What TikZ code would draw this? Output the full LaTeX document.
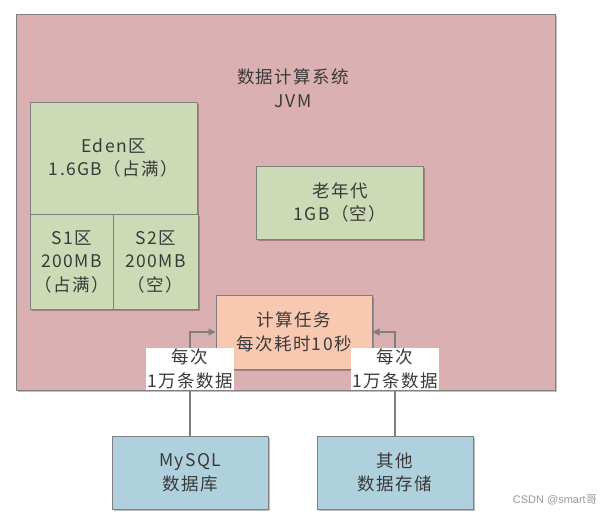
\documentclass[tikz,border=0pt]{standalone}
\usepackage{fontspec}
\setmainfont{Noto Sans CJK SC}[LetterSpace=8]
\newfontfamily\wmfont{Liberation Sans}
\newfontfamily\wmcjk{Noto Sans CJK SC}
\usetikzlibrary{shadows,arrows.meta}
\definecolor{jvmpink}{HTML}{DBB0B2}
\definecolor{gengreen}{HTML}{CCDAB5}
\definecolor{taskorange}{HTML}{F9C8B0}
\definecolor{storeblue}{HTML}{AFD0DD}
\definecolor{edgegray}{HTML}{7F7F7F}
\definecolor{txtgray}{HTML}{3A3A3A}
\begin{document}
\begin{tikzpicture}[x=1pt,y=-1pt,
  box/.style={draw=edgegray, line width=1pt, align=center, text=txtgray,
    font=\fontsize{17.5}{23.5}\selectfont, inner sep=0pt,
    drop shadow={shadow xshift=1.5pt, shadow yshift=-1.5pt, opacity=0.25, fill=black}},
  conn/.style={draw=edgegray, line width=1.3pt, -{Triangle[length=7pt,width=7pt]}},
  lbl/.style={fill=white, align=center, text=txtgray, inner sep=1.5pt,
    font=\fontsize{17.5}{23.5}\selectfont}]
\useasboundingbox (0,0) rectangle (607,517);
\fill[white] (0,0) rectangle (607,517);
% outer JVM box
\node[box, fill=jvmpink, minimum width=539pt, minimum height=376pt] (jvm) at (285.5,202) {};
\node[align=center, text=txtgray, font=\fontsize{17.5}{23.5}\selectfont] (title) at (293,88) {数据计算系统\\JVM};
% generations
\node[box, fill=gengreen, minimum width=167pt, minimum height=112pt] (eden) at (113.5,158) {Eden区\\1.6GB（占满）};
\node[box, fill=gengreen, minimum width=83pt, minimum height=95pt] (s1) at (71.5,261.5) {S1区\\200MB\\（占满）};
\node[box, fill=gengreen, minimum width=85pt, minimum height=95pt] (s2) at (155.5,261.5) {S2区\\200MB\\（空）};
\node[box, fill=gengreen, minimum width=167pt, minimum height=73pt] (old) at (340,202.5) {老年代\\1GB（空）};
% task
\node[box, fill=taskorange, minimum width=156pt, minimum height=74pt] (task) at (294,332) {计算任务\\每次耗时10秒};
% stores
\node[box, fill=storeblue, minimum width=156pt, minimum height=73pt] (mysql) at (190,472.5) {MySQL\\数据库};
\node[box, fill=storeblue, minimum width=156pt, minimum height=73pt] (other) at (395,472.5) {其他\\数据存储};
% connectors
\draw[conn] (mysql.north) |- (task.west);
\draw[conn] (other.north) |- (task.east);
\node[lbl] (lbla) at (190,369) {每次\\1万条数据};
\node[lbl] (lblb) at (395,369) {每次\\1万条数据};
% watermark
\node[anchor=east, text=black!40, font=\wmfont\fontsize{11}{13}\selectfont, inner sep=0pt] (wm) at (597,500) {CSDN @smart{\wmcjk 哥}};
\end{tikzpicture}
\end{document}
